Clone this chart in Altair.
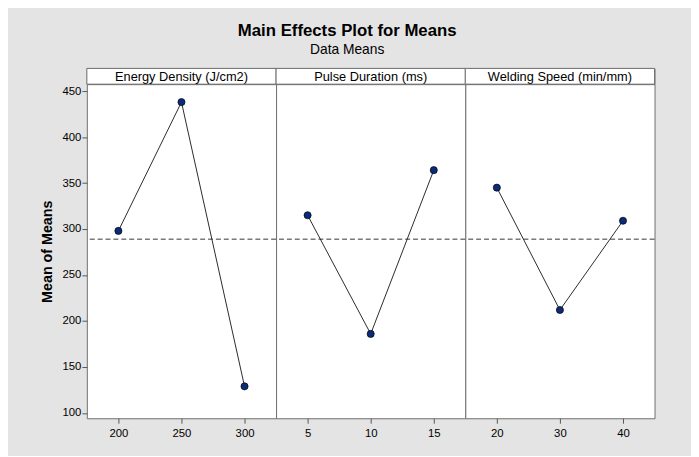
import altair as alt
import pandas as pd

# ---- data ----
factor_names = ["Energy Density (J/cm2)", "Pulse Duration (ms)", "Welding Speed (min/mm)"]
energy_levels = [200, 250, 300]
energy_means = [298, 438, 129]
pulse_levels = [5, 10, 15]
pulse_means = [315, 186, 364]
speed_levels = [20, 30, 40]
speed_means = [345, 212, 309]
grand_mean = [289]
y_ticks = [100, 150, 200, 250, 300, 350, 400, 450]
y_domain = [94.3, 457.5]

FONT = "Liberation Sans"
PANEL_W = 192
PLOT_H = 339
HEAD_H = 16
BORDER = "#6f6f6f"


def panel(levels, means, first):
    df = pd.DataFrame({"level": levels, "mean": means})
    x = alt.X(
        "level:O",
        sort=levels,
        scale=alt.Scale(type="point", padding=0.5),
        axis=alt.Axis(
            title=None, labelAngle=0, domain=False, grid=False,
            tickSize=5, tickColor="#555", labelPadding=4,
            labelFont=FONT, labelFontSize=11.5, labelColor="#000",
        ),
    )
    if first:
        yaxis = alt.Axis(
            title="Mean of Means", values=y_ticks, domain=False, grid=False,
            tickSize=5, tickColor="#555", labelPadding=1,
            labelFont=FONT, labelFontSize=11.5, labelColor="#000",
            titleFont=FONT, titleFontSize=14.5, titleFontWeight="bold",
            titleColor="#000", titlePadding=8,
        )
    else:
        yaxis = None
    y = alt.Y("mean:Q", scale=alt.Scale(domain=y_domain, nice=False, zero=False), axis=yaxis)

    ref = alt.Chart(pd.DataFrame({"mean": grand_mean})).mark_rule(
        color="#333", strokeWidth=1, strokeDash=[5, 3]
    ).encode(y=y)
    line = alt.Chart(df).mark_line(color="#2a2a2a", strokeWidth=1).encode(x=x, y=y)
    pts = alt.Chart(df).mark_point(
        filled=True, shape="circle", size=52, fill="#0b2b7a",
        stroke="#000", strokeWidth=0.7, opacity=1,
    ).encode(x=x, y=y)
    return alt.layer(ref, line, pts).properties(width=PANEL_W, height=PLOT_H)


def header(name):
    d = pd.DataFrame({"t": [name]})
    box = alt.Chart(d).mark_rect(fill="white", stroke=BORDER, strokeWidth=1).encode(
        x=alt.value(0), x2=alt.value(PANEL_W), y=alt.value(0), y2=alt.value(HEAD_H)
    )
    txt = alt.Chart(d).mark_text(
        font=FONT, fontSize=13, color="#000", baseline="middle", align="center"
    ).encode(text="t:N", x=alt.value(PANEL_W / 2), y=alt.value(HEAD_H / 2 + 0.5))
    return alt.layer(box, txt).properties(width=PANEL_W, height=HEAD_H)


cells = [header(n) for n in factor_names] + [
    panel(energy_levels, energy_means, True),
    panel(pulse_levels, pulse_means, False),
    panel(speed_levels, speed_means, False),
]

chart = (
    alt.concat(*cells, columns=3, spacing=0, bounds="flush")
    .properties(
        title=alt.TitleParams(
            text="Main Effects Plot for Means",
            subtitle="Data Means",
            anchor="middle",
            frame="bounds",
            font=FONT,
            fontSize=17,
            fontWeight="bold",
            color="#000",
            subtitleFont=FONT,
            subtitleFontSize=14,
            subtitleColor="#000",
            subtitlePadding=3,
            offset=10,
        ),
        background="#e4e4e4",
        padding={"left": 31, "right": 36, "top": 11, "bottom": 14},
    )
    .configure_view(stroke=BORDER, strokeWidth=1, fill="white")
)

chart.save("out.html", embed_options={"renderer": "svg", "actions": False})
